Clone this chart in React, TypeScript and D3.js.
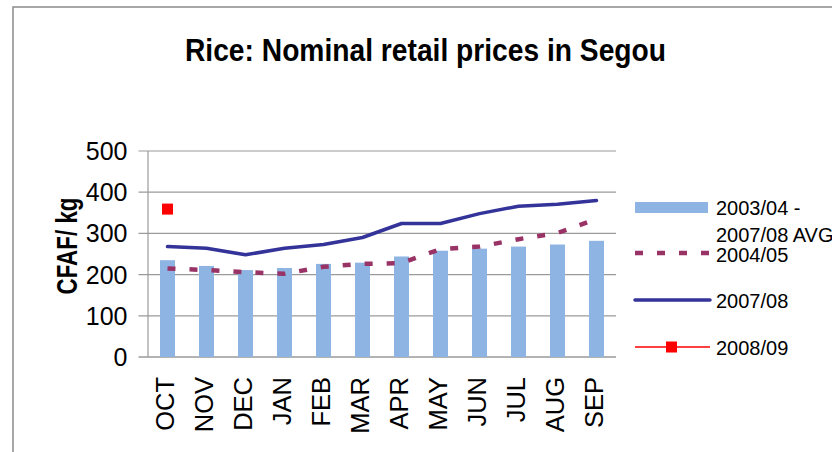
import React from "react";
import * as d3 from "d3";

const months = ["OCT", "NOV", "DEC", "JAN", "FEB", "MAR", "APR", "MAY", "JUN", "JUL", "AUG", "SEP"];
const avg0304_0708 = [235, 221, 211, 216, 226, 229, 244, 258, 263, 268, 273, 282];
const s0405 = [215, 211, 206, 202, 219, 226, 228, 262, 268, 286, 301, 335];
const s0708 = [268, 264, 248, 264, 273, 290, 324, 324, 348, 366, 371, 380];
const s0809: (number | null)[] = [359, null, null, null, null, null, null, null, null, null, null, null];
const yTicks = [0, 100, 200, 300, 400, 500];
const title = "Rice: Nominal retail prices in Segou";
const yLabel = "CFAF/ kg";

const W = 832;
const H = 452;
const plot = { left: 148, right: 616, top: 151, bottom: 357 };
const FONT = "'Liberation Sans', Arial, sans-serif";

export default function App() {
  const x = d3.scaleBand<string>().domain(months).range([plot.left, plot.right]);
  const y = d3.scaleLinear().domain([0, 500]).range([plot.bottom, plot.top]);
  const cx = (m: string) => (x(m) as number) + x.bandwidth() / 2;
  const barW = x.bandwidth() * 0.385;

  const line = d3
    .line<number>()
    .x((_, i) => cx(months[i]))
    .y((d) => y(d));

  return (
    <svg
      width={W}
      height={H}
      style={{ position: "absolute", left: 0, top: 0, background: "#fff" }}
      fontFamily={FONT}
    >
      <rect x={0} y={0} width={W} height={H} fill="#fff" />
      <rect x={13} y={7} width={1000} height={1000} fill="none" stroke="#8a8a8a" strokeWidth={1.5} />

      <text
        x={425.5}
        y={61}
        textAnchor="middle"
        fontSize={32}
        fontWeight="bold"
        textLength={481}
        lengthAdjust="spacingAndGlyphs"
        fill="#000"
      >
        {title}
      </text>

      {/* gridlines and ticks */}
      {yTicks.map((t) => (
        <g key={t}>
          <line x1={plot.left - 9.5} x2={plot.right} y1={y(t)} y2={y(t)} stroke="#9a9a9a" strokeWidth={t === 0 ? 1.5 : 1.2} />
          <text x={127.5} y={y(t) + 9} textAnchor="end" fontSize={25} fill="#000">
            {t}
          </text>
        </g>
      ))}
      <line x1={plot.left} x2={plot.left} y1={plot.top} y2={plot.bottom} stroke="#9a9a9a" strokeWidth={1.2} />

      <text
        transform={`translate(77,246) rotate(-90)`}
        textAnchor="middle"
        fontSize={29}
        fontWeight="bold"
        textLength={97}
        lengthAdjust="spacingAndGlyphs"
        fill="#000"
      >
        {yLabel}
      </text>

      {/* bars */}
      {months.map((m, i) => (
        <rect
          key={m}
          x={cx(m) - barW / 2}
          y={y(avg0304_0708[i])}
          width={barW}
          height={y(0) - y(avg0304_0708[i])}
          fill="#8eb4e3"
        />
      ))}

      {/* 2004/05 dashed */}
      <path d={line(s0405) || ""} fill="none" stroke="#993366" strokeWidth={4.5} strokeDasharray="8 14" />
      {/* 2007/08 solid */}
      <path d={line(s0708) || ""} fill="none" stroke="#333399" strokeWidth={3.5} strokeLinejoin="round" strokeLinecap="round" />
      {/* 2008/09 */}
      {s0809.map((v, i) =>
        v == null ? null : (
          <rect key={i} x={cx(months[i]) - 5.5} y={y(v) - 5.5} width={11} height={11} fill="#ff0000" />
        )
      )}

      {/* x labels */}
      {months.map((m) => (
        <text
          key={m}
          transform={`translate(${cx(m) + 6.5},377) rotate(-90)`}
          textAnchor="end"
          fontSize={25.5}
          fill="#000"
        >
          {m}
        </text>
      ))}

      {/* legend */}
      <g fontSize={20} fill="#000">
        <rect x={635} y={202} width={73} height={11} fill="#8eb4e3" />
        <text x={716} y={215}>2003/04 -</text>
        <text x={716} y={242}>2007/08 AVG</text>

        <line x1={635} x2={712} y1={253} y2={253} stroke="#993366" strokeWidth={4.5} strokeDasharray="8 14" />
        <text x={716} y={262}>2004/05</text>

        <line x1={635} x2={710} y1={300} y2={300} stroke="#333399" strokeWidth={3.5} strokeLinecap="round" />
        <text x={716} y={308}>2007/08</text>

        <line x1={635} x2={710} y1={347} y2={347} stroke="#ff0000" strokeWidth={1.5} />
        <rect x={666} y={341.5} width={11} height={11} fill="#ff0000" />
        <text x={716} y={355}>2008/09</text>
      </g>
    </svg>
  );
}
